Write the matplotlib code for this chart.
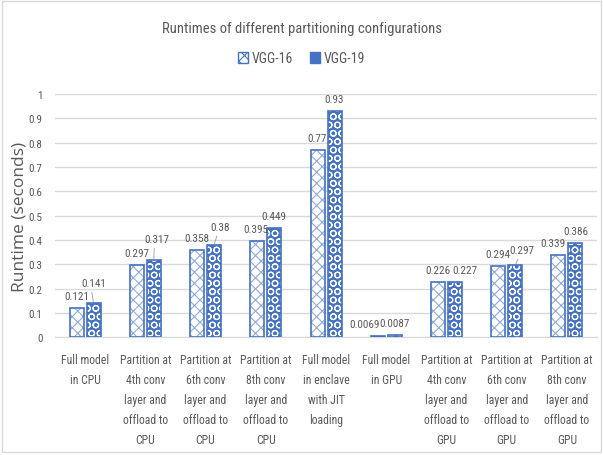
import matplotlib
matplotlib.use('Agg')
from matplotlib import pyplot as plt
from matplotlib.patches import Rectangle, Patch
import numpy as np

# data
configs = ["Full model\nin CPU",
           "Partition at\n4th conv\nlayer and\noffload to\nCPU",
           "Partition at\n6th conv\nlayer and\noffload to\nCPU",
           "Partition at\n8th conv\nlayer and\noffload to\nCPU",
           "Full model\nin enclave\nwith JIT\nloading",
           "Full model\nin GPU",
           "Partition at\n4th conv\nlayer and\noffload to\nGPU",
           "Partition at\n6th conv\nlayer and\noffload to\nGPU",
           "Partition at\n8th conv\nlayer and\noffload to\nGPU"]
vgg16 = [0.121, 0.297, 0.358, 0.395, 0.77, 0.0069, 0.226, 0.294, 0.339]
vgg19 = [0.141, 0.317, 0.38, 0.449, 0.93, 0.0087, 0.227, 0.297, 0.386]
vgg16_labels = ["0.121", "0.297", "0.358", "0.395", "0.77", "0.0069", "0.226", "0.294", "0.339"]
vgg19_labels = ["0.141", "0.317", "0.38", "0.449", "0.93", "0.0087", "0.227", "0.297", "0.386"]
yticks = ["0", "0.1", "0.2", "0.3", "0.4", "0.5", "0.6", "0.7", "0.8", "0.9", "1"]

BLUE = '#4472C4'
LIGHT = '#8EAADB'
TXT = '#595959'

plt.rcParams['font.family'] = ['Roboto Condensed', 'DejaVu Sans']
plt.rcParams['hatch.linewidth'] = 0.8

def main():
    fig = plt.figure(figsize=(6.03, 4.56), dpi=100)
    fig.patches.append(Rectangle((0.003, 0.006), 0.993, 0.99, transform=fig.transFigure,
                                 fill=False, edgecolor='#D9D9D9', linewidth=1))
    ax = fig.add_axes([0.0912, 0.2577, 0.899, 0.534])

    x = np.arange(len(configs))
    w = 0.232
    off = 0.141

    # VGG-16: light pattern on white
    ax.bar(x - off, vgg16, w, color='white', edgecolor=LIGHT, hatch='xxx', linewidth=0, zorder=2)
    ax.bar(x - off, vgg16, w, fill=False, edgecolor=BLUE, linewidth=1.2, zorder=3)
    # VGG-19: blue with white dots
    ax.bar(x + off, vgg19, w, color=BLUE, edgecolor='white', hatch='OO', linewidth=0, zorder=2)
    ax.bar(x + off, vgg19, w, fill=False, edgecolor=BLUE, linewidth=1.2, zorder=3)

    # data labels (pixel nudges)
    dx16 = [0, 0, 0, -1, 0, -13, 0, 0, -6]
    dx19 = [0, 3, 6, 0, 0, 0, 10, 7, 0]
    dy19 = [20, 21, 18, 12, 12, 12, 12, 15, 12]
    leader = [0, 1, 2, 7]
    for i in range(len(configs)):
        ax.annotate(vgg16_labels[i], (x[i] - off, vgg16[i]), xytext=(dx16[i], 12),
                    textcoords='offset pixels', ha='center', va='center', fontsize=8, color=TXT)
        arrow = None
        if i in leader:
            arrow = dict(arrowstyle='-', color='#A6A6A6', lw=0.7, shrinkA=1, shrinkB=1,
                         relpos=(0.4, 0))
        ax.annotate(vgg19_labels[i], (x[i] + off, vgg19[i]), xytext=(dx19[i], dy19[i]),
                    textcoords='offset pixels', ha='center', va='center', fontsize=8, color=TXT,
                    arrowprops=arrow)

    ax.set_ylim(0, 1)
    ax.set_xlim(-0.5, len(configs) - 0.5)
    ax.set_yticks(np.arange(0, 1.01, 0.1))
    ax.set_yticklabels(yticks)
    ax.set_xticks(x)
    ax.set_xticklabels(configs, fontsize=8.5, color=TXT, linespacing=1.7, va='top')
    ax.tick_params(axis='y', labelsize=8, colors=TXT, length=0, pad=9)
    ax.tick_params(axis='x', length=0, pad=11)
    ax.grid(axis='y', color='#D9D9D9', linewidth=1, zorder=0)
    ax.set_axisbelow(True)
    for s in ['top', 'right', 'left']:
        ax.spines[s].set_visible(False)
    ax.spines['bottom'].set_color('#D9D9D9')

    ax.set_ylabel("Runtime (seconds)", fontsize=12.5, color=TXT, labelpad=1,
                  family=['Open Sans', 'DejaVu Sans'])

    fig.text(0.5, 0.937, "Runtimes of different partitioning configurations", ha='center',
             va='center', fontsize=10.5, color=TXT)

    h1 = Patch(facecolor='white', edgecolor=BLUE, hatch='xxx', linewidth=1)
    h2 = Patch(facecolor=BLUE, edgecolor=BLUE, hatch='OO', linewidth=1)
    fig.legend([h1, h2], ["VGG-16", "VGG-19"], loc='center', bbox_to_anchor=(0.5, 0.87),
               ncol=2, frameon=False, fontsize=10, handlelength=0.75, handleheight=0.75,
               handletextpad=0.25, columnspacing=1.2, labelcolor=TXT)

    fig.savefig('out.png', dpi=100)

if (__name__ == "__main__"):
    main()
